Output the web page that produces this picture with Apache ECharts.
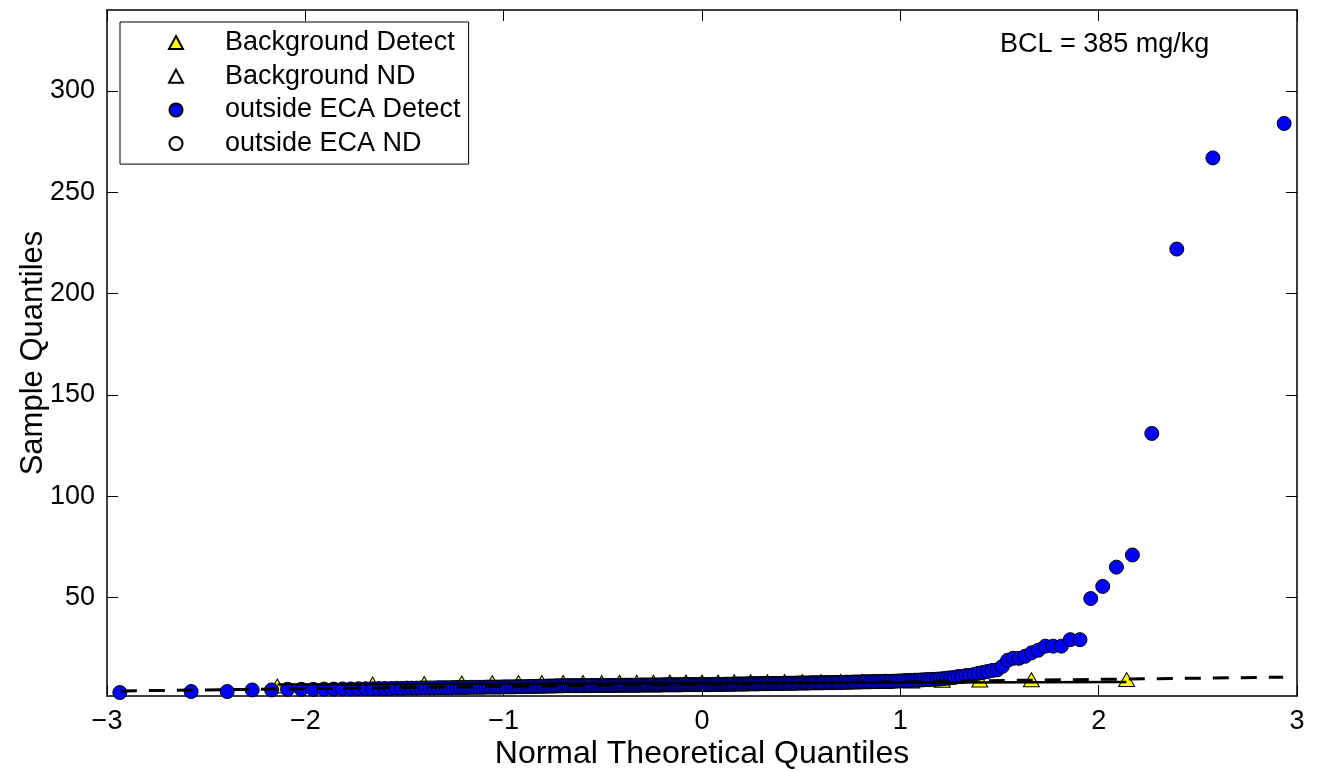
<!DOCTYPE html>
<html>
<head>
<meta charset="utf-8">
<title>QQ plot</title>
<script src="https://cdn.jsdelivr.net/npm/echarts@6/dist/echarts.min.js"></script>
<style>
  html, body { margin: 0; padding: 0; background: #fff; }
  #chart { width: 1318px; height: 771px; }
</style>
</head>
<body>
<div id="chart"></div>
<script>
// tick labels
const xTicks = [-3, -2, -1, 0, 1, 2, 3]
const yTicks = [50, 100, 150, 200, 250, 300]

// sorted sample values, outside ECA (detects)
const outsideDetect = [
  3.1, 3.6, 3.6, 4.4, 4.4, 4.7, 4.7, 4.7, 4.8, 4.8,
  4.9, 4.9, 5.0, 5.0, 5.0, 5.1, 5.1, 5.1, 5.2, 5.2,
  5.3, 5.3, 5.3, 5.4, 5.4, 5.4, 5.4, 5.5, 5.5, 5.5,
  5.5, 5.6, 5.6, 5.6, 5.6, 5.6, 5.7, 5.7, 5.7, 5.7, 5.7, 5.8, 5.8, 5.8, 5.8, 5.8, 5.8, 5.9,
  5.9, 5.9, 5.9, 5.9, 6.0, 6.0, 6.0, 6.0, 6.0, 6.1, 6.1, 6.1, 6.1, 6.2, 6.2, 6.2, 6.2,
  6.3, 6.3, 6.3, 6.3, 6.4, 6.4, 6.4, 6.4, 6.5, 6.5,
  6.5, 6.5, 6.5, 6.5, 6.5, 6.5, 6.5, 6.5, 6.5, 6.5, 6.5, 6.5,
  6.6, 6.6, 6.6, 6.6, 6.6, 6.6, 6.6, 6.6, 6.6, 6.6, 6.6, 6.6, 6.6,
  6.7, 6.7, 6.7, 6.7, 6.7, 6.7, 6.7, 6.7, 6.7, 6.7, 6.7, 6.7, 6.7,
  6.8, 6.8, 6.8, 6.8, 6.8, 6.8, 6.8, 6.8, 6.8, 6.8, 6.8, 6.8, 6.8,
  6.9, 6.9, 6.9, 6.9, 6.9, 6.9, 6.9, 6.9, 6.9, 6.9, 6.9, 6.9,
  7.0, 7.0, 7.0, 7.0, 7.0, 7.0, 7.0, 7.0, 7.0, 7.0, 7.0, 7.0,
  7.0, 7.0, 7.0, 7.0, 7.0, 7.0,
  7.1, 7.1, 7.1, 7.1, 7.1, 7.1, 7.1,
  7.2, 7.2, 7.2, 7.2, 7.2, 7.2, 7.2,
  7.3, 7.3, 7.3, 7.3, 7.3, 7.3, 7.3,
  7.4, 7.4, 7.4, 7.4, 7.4, 7.4, 7.4,
  7.5, 7.5, 7.5, 7.5, 7.5, 7.5, 7.5,
  7.6, 7.6, 7.6, 7.6, 7.6, 7.6, 7.6,
  7.7, 7.7, 7.7, 7.7, 7.7, 7.7, 7.7,
  7.8, 7.8, 7.8, 7.8, 7.8, 7.8, 7.8,
  7.9, 7.9, 7.9, 7.9, 7.9, 7.9, 7.9,
  8.0, 8.0, 8.0, 8.0, 8.0, 8.0,
  8.1, 8.1, 8.1, 8.1, 8.2, 8.2, 8.2, 8.2, 8.3, 8.3, 8.3, 8.3,
  8.4, 8.4, 8.4, 8.4, 8.5, 8.5, 8.5, 8.5, 8.6, 8.6, 8.6, 8.6,
  8.7, 8.7, 8.8, 8.8,
  8.9, 9.0, 9.0, 9.1, 9.2, 9.2, 9.3, 9.4, 9.5, 9.5, 9.6, 9.7, 9.8,
  10.0, 10.2, 10.4,
  10.5, 11, 11, 11.5, 11.5, 12, 12.6, 13, 13.5, 14, 14.3, 16,
  19, 20, 20, 21, 22.7, 24, 26, 26, 26, 29.2, 29.2,
  49.5, 55.5, 65, 71, 131, 222, 267, 284
]

// sorted sample values, background (detects)
const backgroundDetect = [
  6.3, 7.3, 7.6, 7.8, 7.9, 8.0, 8.0, 8.1, 8.1, 8.1,
  8.2, 8.2, 8.2, 8.3, 8.3, 8.3, 8.3, 8.4, 8.4, 8.4,
  8.5, 8.5, 8.5, 8.6, 8.6, 8.7, 8.8, 9.2, 9.3, 9.4, 9.5
]

// no non-detects plotted
const backgroundND = []
const outsideND = []

// reference lines [x, y] end points
const outsideLine = [[-2.93, 3.9], [2.93, 10.7]]
const backgroundLine = [[-2.14, 7.1], [2.14, 8.3]]

const FONT = 'Liberation Sans, Arial, Helvetica, sans-serif'

// inverse normal cdf (Acklam) for the plotting positions
function normInv(p) {
  const a = [-39.69683028665376, 220.9460984245205, -275.9285104469687, 138.3577518672690, -30.66479806614716, 2.506628277459239]
  const b = [-54.47609879822406, 161.5858368580409, -155.6989798598866, 66.80131188771972, -13.28068155288572]
  const c = [-0.007784894002430293, -0.3223964580411365, -2.400758277161838, -2.549732539343734, 4.374664141464968, 2.938163982698783]
  const d = [0.007784695709041462, 0.3224671290700398, 2.445134137142996, 3.754408661907416]
  const pl = 0.02425
  let q, r
  if (p < pl) {
    q = Math.sqrt(-2 * Math.log(p))
    return (((((c[0] * q + c[1]) * q + c[2]) * q + c[3]) * q + c[4]) * q + c[5]) /
      ((((d[0] * q + d[1]) * q + d[2]) * q + d[3]) * q + 1)
  }
  if (p > 1 - pl) {
    q = Math.sqrt(-2 * Math.log(1 - p))
    return -(((((c[0] * q + c[1]) * q + c[2]) * q + c[3]) * q + c[4]) * q + c[5]) /
      ((((d[0] * q + d[1]) * q + d[2]) * q + d[3]) * q + 1)
  }
  q = p - 0.5
  r = q * q
  return (((((a[0] * r + a[1]) * r + a[2]) * r + a[3]) * r + a[4]) * r + a[5]) * q /
    (((((b[0] * r + b[1]) * r + b[2]) * r + b[3]) * r + b[4]) * r + 1)
}

// pair each sorted value with its normal quantile
function qq(values) {
  const n = values.length
  return values.map((v, i) => [normInv((i + 0.5) / n), v])
}

const minus = v => String(v).replace('-', '\u2212')

const chart = echarts.init(document.getElementById('chart'))

const axisLineStyle = { onZero: false, lineStyle: { color: '#000', width: 1.5 } }
const tickStyle = { inside: true, length: 11, lineStyle: { color: '#000', width: 1 } }

const option = {
  animation: false,
  backgroundColor: '#fff',
  textStyle: { fontFamily: FONT },
  grid: { left: 107, right: 21, top: 10, bottom: 75, outerBoundsMode: 'none', containLabel: false },
  legend: {
    left: 120,
    top: 22,
    orient: 'vertical',
    backgroundColor: '#fff',
    borderColor: '#000',
    borderWidth: 1,
    padding: [7, 8, 7, 48],
    itemGap: 6.7,
    itemWidth: 14,
    itemHeight: 13,
    textStyle: { fontSize: 27, color: '#000', fontFamily: FONT, padding: [0, 0, 0, 37] },
    data: [
      { name: 'Background Detect', icon: 'triangle' },
      { name: 'Background ND', icon: 'triangle' },
      { name: 'outside ECA Detect', icon: 'circle' },
      { name: 'outside ECA ND', icon: 'circle' }
    ]
  },
  graphic: [{
    type: 'text',
    left: 1000,
    top: 31,
    style: { text: 'BCL = 385 mg/kg', fontSize: 27, fill: '#000', fontFamily: FONT }
  }],
  xAxis: [{
    type: 'value',
    min: -3,
    max: 3,
    interval: 1,
    name: 'Normal Theoretical Quantiles',
    nameLocation: 'middle',
    nameGap: 42,
    nameMoveOverlap: false,
    nameTextStyle: { fontSize: 32, color: '#000', fontFamily: FONT },
    axisLine: axisLineStyle,
    axisTick: tickStyle,
    splitLine: { show: false },
    axisLabel: { fontSize: 27, color: '#000', margin: 12, formatter: minus,
      customValues: xTicks }
  }, {
    type: 'value',
    position: 'top',
    min: -3,
    max: 3,
    interval: 1,
    axisLine: axisLineStyle,
    axisTick: tickStyle,
    axisLabel: { show: false },
    splitLine: { show: false }
  }],
  yAxis: [{
    type: 'value',
    min: 1.4,
    max: 340,
    name: 'Sample Quantiles',
    nameLocation: 'middle',
    nameGap: 58,
    nameMoveOverlap: false,
    nameTextStyle: { fontSize: 31, color: '#000', fontFamily: FONT },
    axisLine: axisLineStyle,
    axisTick: Object.assign({ customValues: yTicks }, tickStyle),
    splitLine: { show: false },
    axisLabel: { fontSize: 27, color: '#000', margin: 12, customValues: yTicks }
  }, {
    type: 'value',
    position: 'right',
    min: 1.4,
    max: 340,
    axisLine: axisLineStyle,
    axisTick: Object.assign({ customValues: yTicks }, tickStyle),
    axisLabel: { show: false },
    splitLine: { show: false }
  }],
  series: [
    {
      name: 'Background Detect',
      type: 'scatter',
      symbol: 'triangle',
      symbolSize: [16, 14],
      itemStyle: { color: '#ffff00', borderColor: '#000', borderWidth: 1, opacity: 1 },
      data: qq(backgroundDetect),
      z: 2
    },
    {
      name: 'Background ND',
      type: 'scatter',
      symbol: 'triangle',
      symbolSize: [16, 14],
      itemStyle: { color: '#fff', borderColor: '#000', borderWidth: 1, opacity: 1 },
      data: backgroundND,
      z: 2
    },
    {
      name: 'outside ECA Detect',
      type: 'scatter',
      symbol: 'circle',
      symbolSize: 14,
      itemStyle: { color: '#0000ff', borderColor: '#000', borderWidth: 1, opacity: 1 },
      data: qq(outsideDetect),
      z: 3
    },
    {
      name: 'outside ECA ND',
      type: 'scatter',
      symbol: 'circle',
      symbolSize: 14,
      itemStyle: { color: '#fff', borderColor: '#000', borderWidth: 1, opacity: 1 },
      data: outsideND,
      z: 3
    },
    {
      type: 'line',
      data: backgroundLine,
      symbol: 'none',
      silent: true,
      lineStyle: { color: '#000', width: 2.5 },
      z: 4
    },
    {
      type: 'line',
      data: outsideLine,
      symbol: 'none',
      silent: true,
      lineStyle: { color: '#000', width: 3, type: [16, 12] },
      z: 4
    }
  ]
}

chart.setOption(option)
</script>
</body>
</html>
